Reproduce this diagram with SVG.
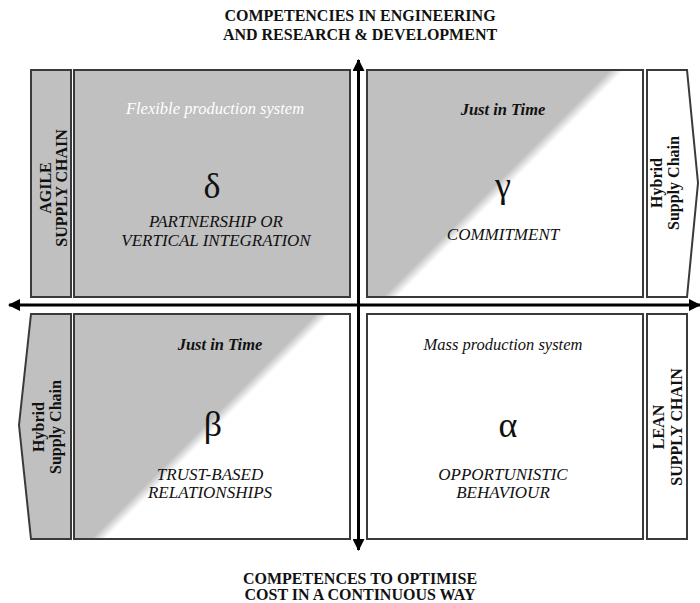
<svg xmlns="http://www.w3.org/2000/svg" width="700" height="603" viewBox="0 0 700 603">
<style>
.box{stroke:#3a3a3a;stroke-width:2}
.g{fill:#c0c0c0}
.w{fill:#ffffff}
text{font-family:'Liberation Serif','DejaVu Serif',serif;fill:#111}
.title{font-size:16px;font-weight:bold;text-anchor:middle}
.side{font-size:16px;font-weight:bold;text-anchor:middle}
.it{font-size:17px;font-style:italic;text-anchor:middle}
.sys{font-size:16.5px;font-style:italic;text-anchor:middle}
.greek{font-size:36px;text-anchor:middle}
.axis{stroke:#000;stroke-width:3;fill:none}
</style>
<defs>
<linearGradient id="gradG" gradientUnits="userSpaceOnUse" x1="340" y1="340" x2="347" y2="347">
<stop offset="0" stop-color="#c0c0c0"/><stop offset="1" stop-color="#ffffff"/>
</linearGradient>
<linearGradient id="gradB" gradientUnits="userSpaceOnUse" x1="315" y1="315" x2="322" y2="322">
<stop offset="0" stop-color="#c0c0c0"/><stop offset="1" stop-color="#ffffff"/>
</linearGradient>
<marker id="ah" viewBox="0 0 12 12" refX="11" refY="6" markerWidth="12" markerHeight="12" markerUnits="userSpaceOnUse" orient="auto">
<path d="M0,0 L12,6 L0,12 Z" fill="#000"/>
</marker>
</defs>

<g id="title-top">
<text class="title" x="360" y="21">COMPETENCIES IN ENGINEERING</text>
<text class="title" x="360" y="40">AND RESEARCH &amp; DEVELOPMENT</text>
</g>
<g id="title-bottom">
<text class="title" x="360" y="584">COMPETENCES TO OPTIMISE</text>
<text class="title" x="360" y="600">COST IN A CONTINUOUS WAY</text>
</g>

<g id="agile">
<rect class="box g" x="31" y="70" width="40" height="227"/>
<text class="side" transform="translate(51,188) rotate(-90)">AGILE</text>
<text class="side" transform="translate(67,188) rotate(-90)">SUPPLY CHAIN</text>
</g>

<g id="delta">
<rect class="box g" x="74" y="70" width="276" height="227"/>
<text class="sys" x="215" y="114" style="fill:#fff">Flexible production system</text>
<text class="greek" x="212" y="198">δ</text>
<text class="it" x="216" y="227">PARTNERSHIP OR</text>
<text class="it" x="216" y="246">VERTICAL INTEGRATION</text>
</g>

<g id="gamma">
<rect class="box" x="367" y="70" width="276" height="227" fill="url(#gradG)"/>
<text class="sys" x="503" y="115" style="font-weight:bold">Just in Time</text>
<text class="greek" x="503" y="197">γ</text>
<text class="it" x="503" y="240">COMMITMENT</text>
</g>

<g id="hybrid-right">
<path class="box w" d="M647,70 L687,70 L698,183 L687,297 L647,297 Z"/>
<text class="side" transform="translate(662,183) rotate(-90)">Hybrid</text>
<text class="side" transform="translate(679,183) rotate(-90)">Supply Chain</text>
</g>

<g id="hybrid-left">
<path class="box g" d="M31,314 L71,314 L71,539 L31,539 L19,425 Z"/>
<text class="side" transform="translate(44,427) rotate(-90)">Hybrid</text>
<text class="side" transform="translate(61,427) rotate(-90)">Supply Chain</text>
</g>

<g id="beta">
<rect class="box" x="74" y="314" width="276" height="225" fill="url(#gradB)"/>
<text class="sys" x="220" y="350" style="font-weight:bold">Just in Time</text>
<text class="greek" x="213" y="436">β</text>
<text class="it" x="210" y="480">TRUST-BASED</text>
<text class="it" x="210" y="498">RELATIONSHIPS</text>
</g>

<g id="alpha">
<rect class="box w" x="367" y="314" width="276" height="225"/>
<text class="sys" x="503" y="350">Mass production system</text>
<text class="greek" x="508" y="437">α</text>
<text class="it" x="503" y="480">OPPORTUNISTIC</text>
<text class="it" x="503" y="498">BEHAVIOUR</text>
</g>

<g id="lean">
<rect class="box w" x="647" y="314" width="40" height="225"/>
<text class="side" transform="translate(664,427) rotate(-90)">LEAN</text>
<text class="side" transform="translate(682,427) rotate(-90)">SUPPLY CHAIN</text>
</g>

<g id="connectors">
<line class="axis" x1="358.5" y1="305" x2="358.5" y2="60" marker-end="url(#ah)"/>
<line class="axis" x1="358.5" y1="305" x2="358.5" y2="550" marker-end="url(#ah)"/>
<line class="axis" x1="358.5" y1="305" x2="9" y2="305" marker-end="url(#ah)"/>
<line class="axis" x1="358.5" y1="305" x2="700" y2="305" marker-end="url(#ah)"/>
</g>
</svg>
